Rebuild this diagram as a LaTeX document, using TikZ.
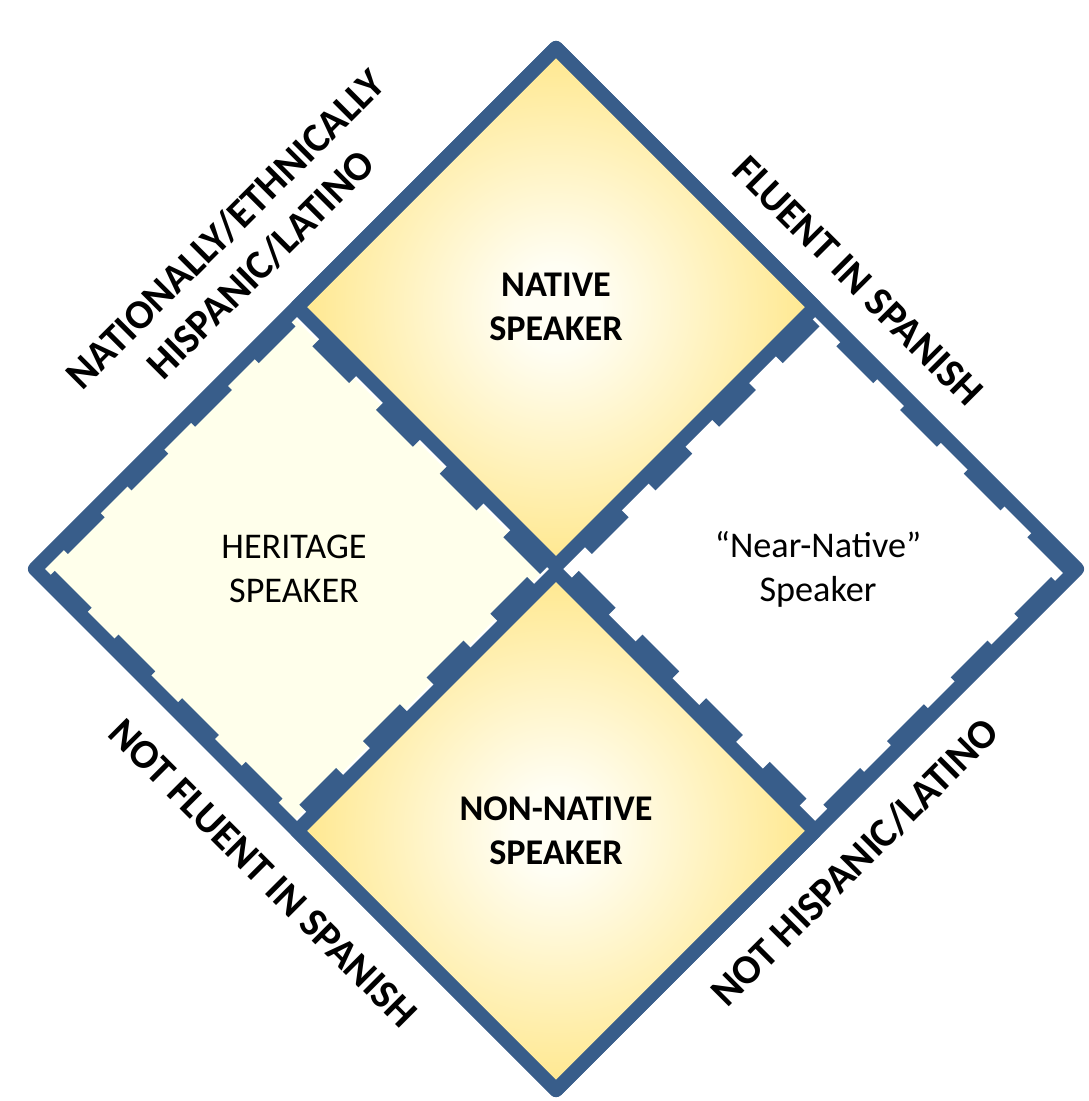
\documentclass[tikz,border=0pt]{standalone}
\usepackage{fontspec}
\setmainfont{Carlito}
\usetikzlibrary{shapes.geometric}
\definecolor{edge}{HTML}{385D8A}
\definecolor{goldc}{HTML}{FFFEF4}
\definecolor{golde}{HTML}{FFDF66}
\definecolor{paleyel}{HTML}{FFFFEB}
\pgfdeclareradialshading{goldglow}{\pgfpoint{0bp}{0bp}}{color(0bp)=(goldc); color(4bp)=(goldc); color(33bp)=(golde); color(50bp)=(golde)}

\begin{document}
\begin{tikzpicture}[
  quad/.style={diamond, draw=edge, line width=0.14cm, line join=round, inner sep=0pt, align=center, font=\fontsize{10.3}{12.5}\selectfont},
  solidquad/.style={quad, minimum width=5.24cm, minimum height=5.24cm, shade, shading=goldglow, font=\bfseries\fontsize{10.3}{12.5}\selectfont},
  dashquad/.style={quad, minimum width=5.08cm, minimum height=5.08cm, dash pattern=on 0.52cm off 0.38cm},
  side/.style={font=\bfseries\fontsize{11.7}{14.2}\selectfont, align=center, inner sep=0pt}
]
  \useasboundingbox (0,0) rectangle (10.88,11.01);

  % quadrants
  \node[dashquad, fill=paleyel] (heritage) at (2.94,5.32) {HERITAGE\\SPEAKER};
  \node[dashquad, fill=white] (nearnative) at (8.18,5.32) {“Near-Native”\\Speaker};
  \node[solidquad] (native) at (5.56,7.94) {NATIVE\\SPEAKER};
  \node[solidquad] (nonnative) at (5.56,2.70) {NON-NATIVE\\SPEAKER};

  % outer frame
  \node[diamond, draw=edge, line width=0.14cm, line join=round, minimum width=10.48cm, minimum height=10.48cm] (frame) at (5.56,5.32) {};

  % axis labels
  \node[side, rotate=45] (hisp) at (2.43,8.54) {NATIONALLY/ETHNICALLY\\HISPANIC/LATINO};
  \node[side, rotate=-45] (fluent) at (8.58,8.20) {FLUENT IN SPANISH};
  \node[side, rotate=-45] (notfluent) at (2.63,2.28) {NOT FLUENT IN SPANISH};
  \node[side, rotate=45] (nothisp) at (8.55,2.39) {NOT HISPANIC/LATINO};
\end{tikzpicture}
\end{document}
